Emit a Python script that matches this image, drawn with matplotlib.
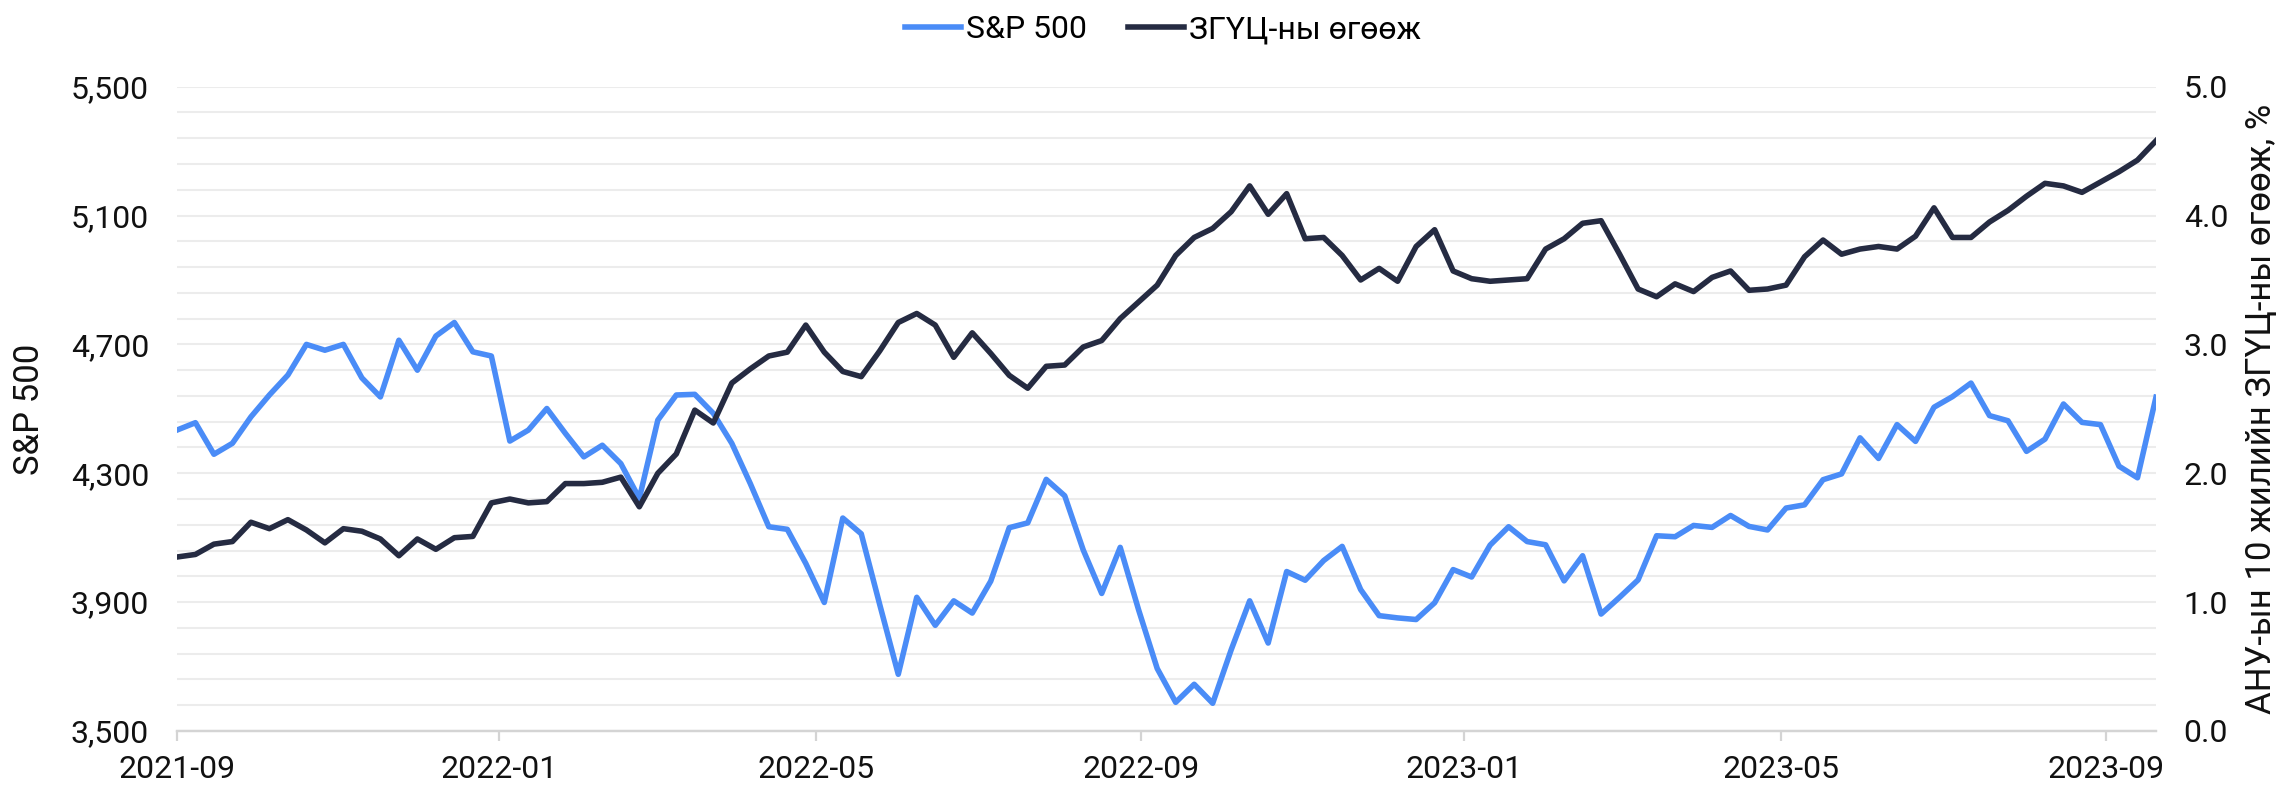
import matplotlib
matplotlib.use("Agg")
import matplotlib.pyplot as plt
import matplotlib.dates as mdates
from matplotlib.ticker import FixedLocator, FuncFormatter
import numpy as np
import pandas as pd

plt.rcParams['font.family'] = ['Roboto', 'DejaVu Sans']

start_date = "2021-09-01"

sp500 = [4434, 4457, 4359, 4393, 4475, 4543, 4605, 4700, 4682, 4700, 4596, 4537,
         4713, 4620, 4726, 4768, 4677, 4664, 4400, 4434, 4501, 4424, 4351, 4387,
         4330, 4222, 4465, 4543, 4545, 4486, 4393, 4268, 4134, 4126, 4020, 3899,
         4161, 4112, 3892, 3676, 3915, 3828, 3904, 3866, 3965, 4131, 4146, 4281,
         4230, 4062, 3927, 4070, 3875, 3694, 3589, 3645, 3586, 3752, 3904, 3773,
         3995, 3968, 4029, 4073, 3939, 3858, 3851, 3846, 3898, 4001, 3978, 4077,
         4134, 4088, 4078, 3966, 4044, 3863, 3915, 3969, 4106, 4103, 4138, 4132,
         4169, 4135, 4124, 4192, 4202, 4280, 4298, 4410, 4346, 4451, 4399, 4505,
         4538, 4580, 4479, 4463, 4368, 4406, 4515, 4458, 4451, 4322, 4286, 4536]

yield10 = [1.35, 1.37, 1.45, 1.47, 1.62, 1.57, 1.64, 1.56, 1.46, 1.57, 1.55, 1.49,
           1.36, 1.49, 1.41, 1.50, 1.51, 1.77, 1.80, 1.77, 1.78, 1.92, 1.92, 1.93,
           1.97, 1.74, 2.00, 2.15, 2.49, 2.39, 2.70, 2.81, 2.91, 2.94, 3.15, 2.94,
           2.79, 2.75, 2.95, 3.17, 3.24, 3.15, 2.90, 3.09, 2.93, 2.76, 2.66, 2.83,
           2.84, 2.98, 3.03, 3.20, 3.33, 3.46, 3.69, 3.83, 3.90, 4.03, 4.23, 4.01,
           4.17, 3.82, 3.83, 3.69, 3.50, 3.59, 3.49, 3.76, 3.89, 3.57, 3.51, 3.49,
           3.50, 3.51, 3.74, 3.82, 3.94, 3.96, 3.70, 3.43, 3.37, 3.47, 3.41, 3.52,
           3.57, 3.42, 3.43, 3.46, 3.68, 3.81, 3.70, 3.74, 3.76, 3.74, 3.84, 4.06,
           3.83, 3.83, 3.95, 4.04, 4.15, 4.25, 4.23, 4.18, 4.26, 4.34, 4.43, 4.58]

left_ticks = [3500, 3900, 4300, 4700, 5100, 5500]
right_ticks = [0.0, 1.0, 2.0, 3.0, 4.0, 5.0]
series_names = ["S&P 500", "ЗГҮЦ-ны өгөөж"]
left_label = "S&P 500"
right_label = "АНУ-ын 10 жилийн ЗГҮЦ-ны өгөөж, %"

dates = pd.date_range(start_date, periods=len(sp500), freq="7D")

BLUE = "#4a8cf7"
NAVY = "#252b42"
GRID = "#ececec"
TXT = "#111111"
FS = 11.5
LFS = 12.5

fig = plt.figure(figsize=(11.4, 3.93), dpi=200)
ax = fig.add_axes([0.0776, 0.070, 0.8680, 0.8197])
ax2 = ax.twinx()

l1, = ax.plot(dates, sp500, color=BLUE, lw=2.0, label=series_names[0])
l2, = ax2.plot(dates, yield10, color=NAVY, lw=2.0, label=series_names[1])

ax.set_xlim(dates[0], dates[-1])
ax.set_ylim(left_ticks[0], left_ticks[-1])
ax2.set_ylim(right_ticks[0], right_ticks[-1])

ax.yaxis.set_major_locator(FixedLocator(left_ticks))
ax.yaxis.set_minor_locator(FixedLocator(np.linspace(left_ticks[0], left_ticks[-1], 26)))
ax.yaxis.set_major_formatter(FuncFormatter(lambda v, p: f"{v:,.0f}"))
ax2.yaxis.set_major_locator(FixedLocator(right_ticks))
ax2.yaxis.set_major_formatter(FuncFormatter(lambda v, p: f"{v:.1f}"))

ax.grid(True, axis='y', which='both', color=GRID, lw=0.75)
ax.set_axisbelow(True)

ax.xaxis.set_major_locator(mdates.MonthLocator(bymonth=[1, 5, 9]))
ax.xaxis.set_major_formatter(mdates.DateFormatter("%Y-%m"))

for a in (ax, ax2):
    for s in ('top', 'left', 'right'):
        a.spines[s].set_visible(False)
    a.spines['bottom'].set_color('#d4d4d4')
    a.spines['bottom'].set_linewidth(0.8)

ax.tick_params(axis='y', which='both', length=0, pad=10, labelsize=FS, labelcolor=TXT)
ax2.tick_params(axis='y', which='both', length=0, pad=10, labelsize=FS, labelcolor=TXT)
ax.tick_params(axis='x', length=3.6, width=0.8, color='#d4d4d4', pad=5, labelsize=FS, labelcolor=TXT)

ax.set_ylabel(left_label, fontsize=LFS, color=TXT)
ax.yaxis.set_label_coords(-0.066, 0.5)
ax2.set_ylabel(right_label, fontsize=LFS, color=TXT, rotation=90)
ax2.yaxis.set_label_coords(1.045, 0.5)

fig.legend(handles=[l1, l2], loc='center', bbox_to_anchor=(0.51, 0.962),
           ncol=2, frameon=False, fontsize=FS, handlelength=1.75,
           handletextpad=0.15, columnspacing=1.3)

fig.savefig("out.png", dpi=200)
